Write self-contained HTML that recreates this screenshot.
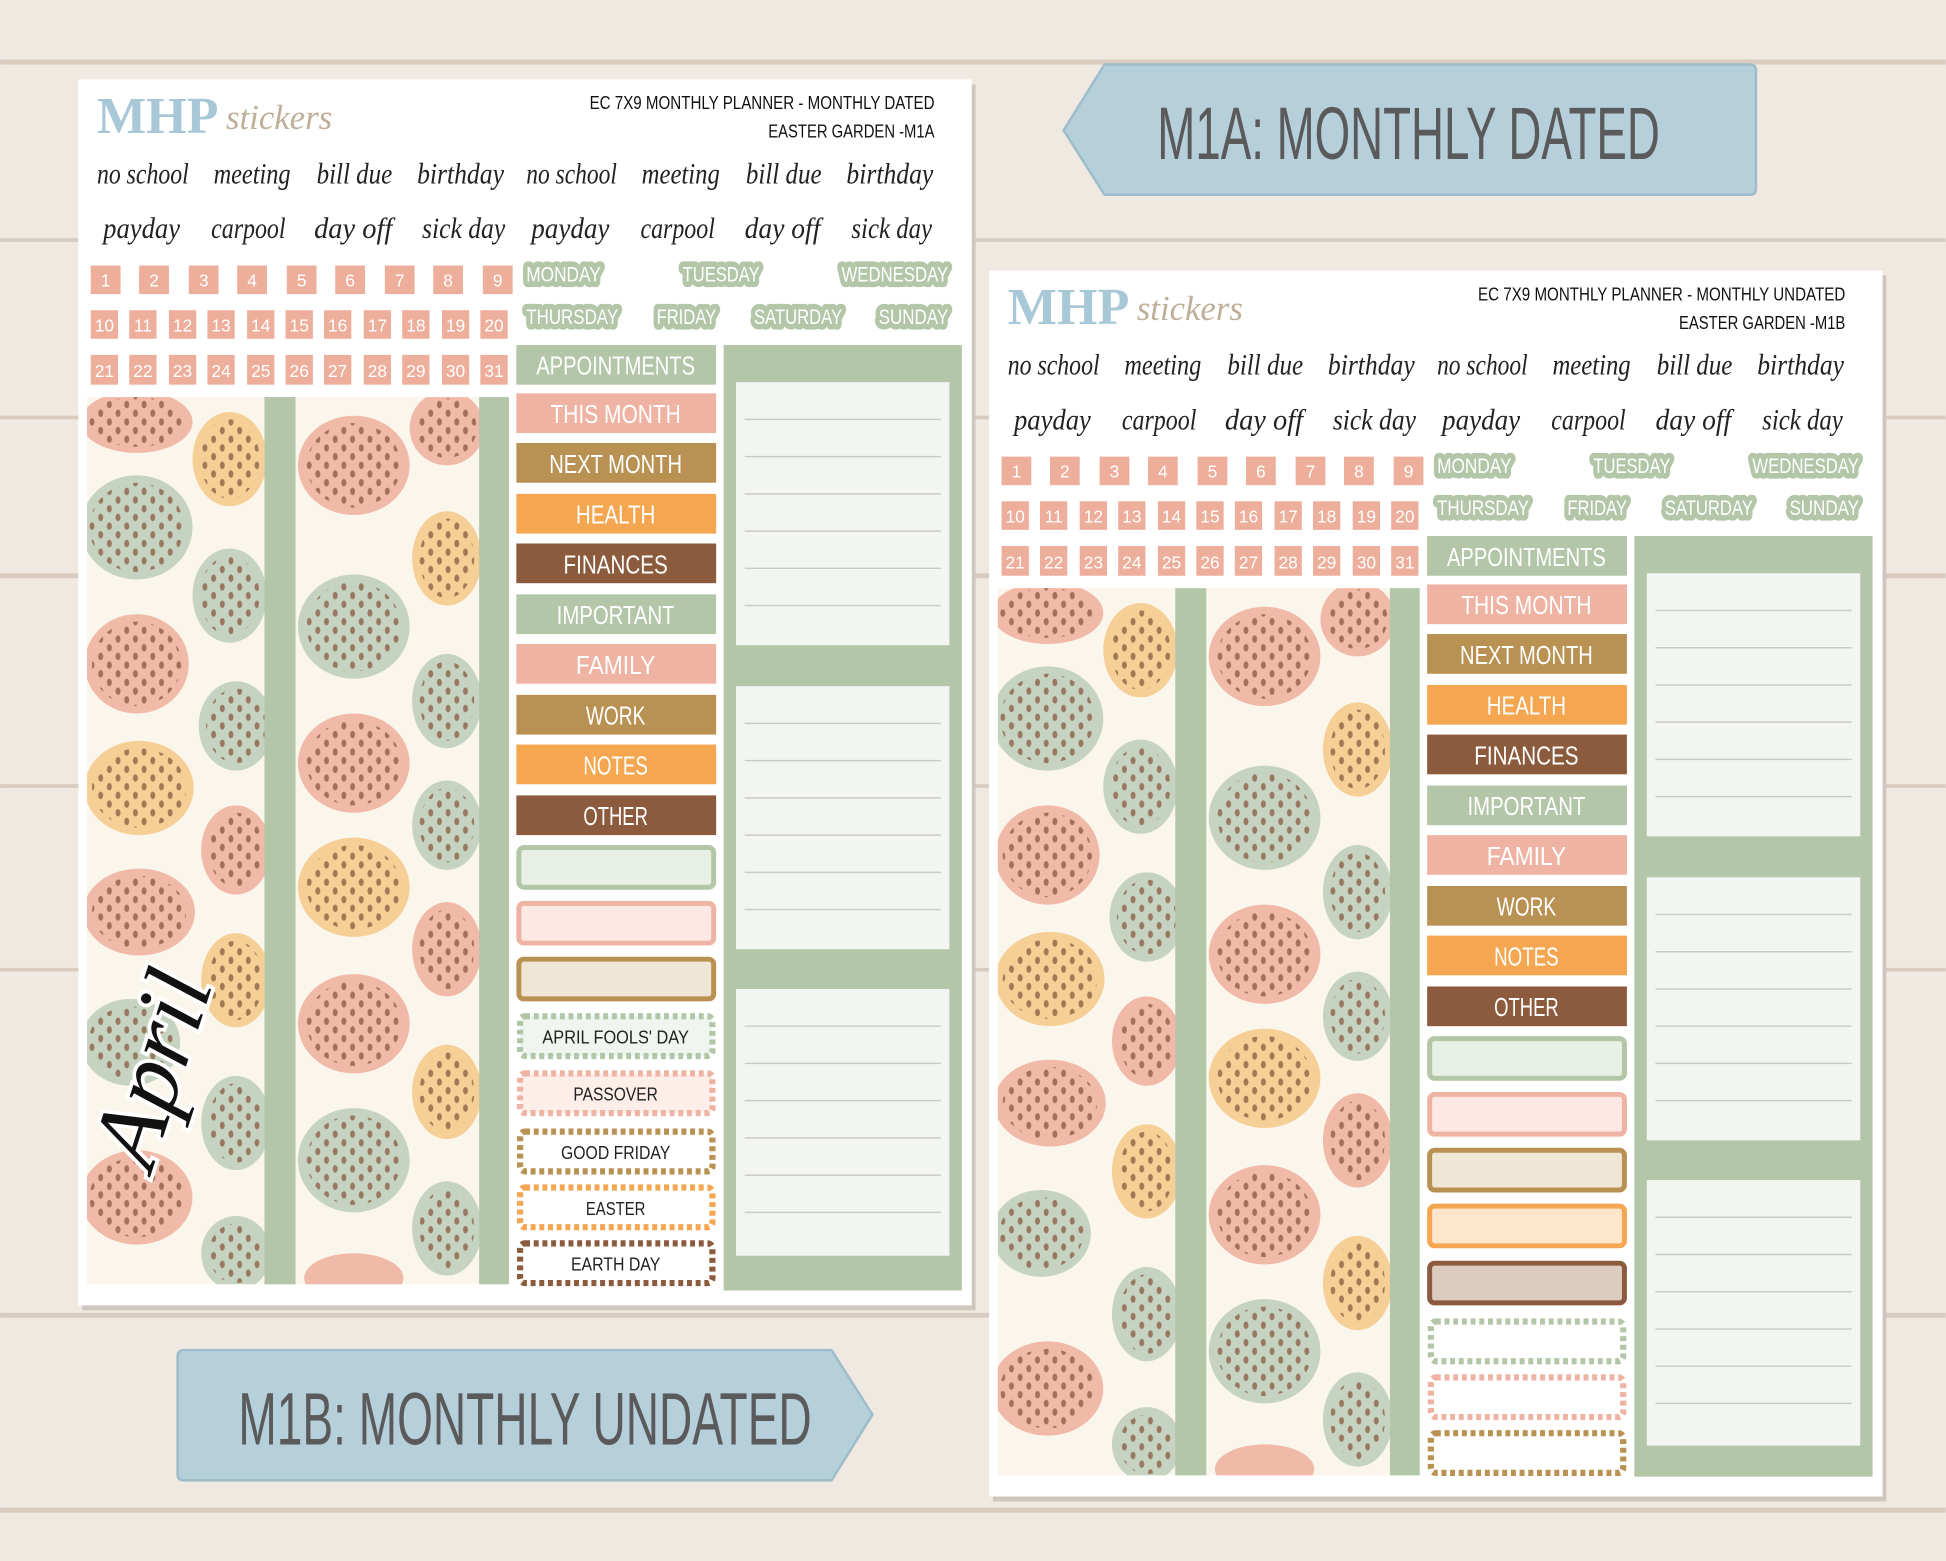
<!DOCTYPE html>
<html><head><meta charset="utf-8"><style>
html,body{margin:0;padding:0;background:#efe9e2;}
svg{display:block}
.w{font-family:"Liberation Sans",sans-serif;fill:#fff;text-anchor:middle;font-size:21px}
.s{font-family:"Liberation Serif",serif;font-style:italic;font-size:24px;fill:#222}
.n{font-family:"Liberation Sans",sans-serif;fill:#fff;text-anchor:middle;font-size:14px}
.d{font-family:"Liberation Sans",sans-serif;fill:#fff;text-anchor:middle;font-size:17px;stroke:#b3c6a8;stroke-width:9px;stroke-linejoin:round;paint-order:stroke}
.k{font-family:"Liberation Sans",sans-serif;fill:#222;text-anchor:middle;font-size:15px}
.t{font-family:"Liberation Sans",sans-serif;fill:#111;text-anchor:end;font-size:15px}
.b{font-family:"Liberation Sans",sans-serif;fill:#5a5a5a;text-anchor:middle;font-size:60px}
.ln{stroke:#c9cbc8;stroke-width:1.2}
</style></head><body>
<svg width="1946" height="1561" viewBox="0 0 1568 1258" xmlns="http://www.w3.org/2000/svg">
<defs>
<pattern id="dots" width="14" height="14" patternUnits="userSpaceOnUse"><ellipse cx="4" cy="4" rx="2" ry="3" fill="#8a5a40"/><ellipse cx="11" cy="11" rx="2" ry="3" fill="#8a5a40"/></pattern>
<clipPath id="c1"><rect x="70" y="320" width="340" height="715"/></clipPath>
</defs>
<rect width="1568" height="1258" fill="#efe9e2"/>
<g fill="#d8ccc0">
<rect y="48" width="1568" height="4"/><rect y="192" width="1568" height="3"/><rect y="335" width="1568" height="3"/><rect y="462" width="1568" height="4"/><rect y="632" width="1568" height="3"/><rect y="780" width="1568" height="3"/><rect y="1058" width="1568" height="4"/><rect y="1215" width="1568" height="4"/>
</g>

<!-- Sheet 1 -->
<rect x="66" y="68" width="720" height="988" fill="#cfc7bd"/>
<rect x="63" y="64" width="720" height="988" fill="#fff"/>
<text x="78" y="107" font-family="Liberation Serif,serif" font-weight="bold" font-size="42" fill="#a8c8d8">MHP</text>
<text x="182" y="104" font-family="Liberation Serif,serif" font-style="italic" font-size="28" fill="#bfae98">stickers</text>
<text class="t" x="753" y="88" textLength="278" lengthAdjust="spacingAndGlyphs">EC 7X9 MONTHLY PLANNER - MONTHLY DATED</text>
<text class="t" x="753" y="111" textLength="134" lengthAdjust="spacingAndGlyphs">EASTER GARDEN -M1A</text>
<g class="s">
<text x="78" y="148" textLength="74" lengthAdjust="spacingAndGlyphs">no school</text><text x="172" y="148" textLength="62" lengthAdjust="spacingAndGlyphs">meeting</text><text x="255" y="148" textLength="61" lengthAdjust="spacingAndGlyphs">bill due</text><text x="336" y="148" textLength="70" lengthAdjust="spacingAndGlyphs">birthday</text>
<text x="424" y="148" textLength="73" lengthAdjust="spacingAndGlyphs">no school</text><text x="517" y="148" textLength="63" lengthAdjust="spacingAndGlyphs">meeting</text><text x="601" y="148" textLength="61" lengthAdjust="spacingAndGlyphs">bill due</text><text x="682" y="148" textLength="70" lengthAdjust="spacingAndGlyphs">birthday</text>
<text x="83" y="192" textLength="62" lengthAdjust="spacingAndGlyphs">payday</text><text x="170" y="192" textLength="60" lengthAdjust="spacingAndGlyphs">carpool</text><text x="253" y="192" textLength="63" lengthAdjust="spacingAndGlyphs">day off</text><text x="340" y="192" textLength="67" lengthAdjust="spacingAndGlyphs">sick day</text>
<text x="428" y="192" textLength="63" lengthAdjust="spacingAndGlyphs">payday</text><text x="516" y="192" textLength="60" lengthAdjust="spacingAndGlyphs">carpool</text><text x="600" y="192" textLength="61" lengthAdjust="spacingAndGlyphs">day off</text><text x="686" y="192" textLength="65" lengthAdjust="spacingAndGlyphs">sick day</text>
</g>
<g fill="#eeae9c">
<rect x="73" y="214" width="24" height="23"/><rect x="112" y="214" width="24" height="23"/><rect x="152" y="214" width="24" height="23"/><rect x="191" y="214" width="24" height="23"/><rect x="231" y="214" width="24" height="23"/><rect x="270" y="214" width="24" height="23"/><rect x="310" y="214" width="24" height="23"/><rect x="349" y="214" width="24" height="23"/><rect x="389" y="214" width="24" height="23"/>
<rect x="73" y="250" width="22" height="23"/><rect x="104" y="250" width="22" height="23"/><rect x="136" y="250" width="22" height="23"/><rect x="167" y="250" width="22" height="23"/><rect x="199" y="250" width="22" height="23"/><rect x="230" y="250" width="22" height="23"/><rect x="261" y="250" width="22" height="23"/><rect x="293" y="250" width="22" height="23"/><rect x="324" y="250" width="22" height="23"/><rect x="356" y="250" width="22" height="23"/><rect x="387" y="250" width="22" height="23"/>
<rect x="73" y="286" width="22" height="24"/><rect x="104" y="286" width="22" height="24"/><rect x="136" y="286" width="22" height="24"/><rect x="167" y="286" width="22" height="24"/><rect x="199" y="286" width="22" height="24"/><rect x="230" y="286" width="22" height="24"/><rect x="261" y="286" width="22" height="24"/><rect x="293" y="286" width="22" height="24"/><rect x="324" y="286" width="22" height="24"/><rect x="356" y="286" width="22" height="24"/><rect x="387" y="286" width="22" height="24"/>
</g>
<g class="n">
<text x="85" y="231">1</text><text x="124" y="231">2</text><text x="164" y="231">3</text><text x="203" y="231">4</text><text x="243" y="231">5</text><text x="282" y="231">6</text><text x="322" y="231">7</text><text x="361" y="231">8</text><text x="401" y="231">9</text>
<text x="84" y="267">10</text><text x="115" y="267">11</text><text x="147" y="267">12</text><text x="178" y="267">13</text><text x="210" y="267">14</text><text x="241" y="267">15</text><text x="272" y="267">16</text><text x="304" y="267">17</text><text x="335" y="267">18</text><text x="367" y="267">19</text><text x="398" y="267">20</text>
<text x="84" y="304">21</text><text x="115" y="304">22</text><text x="147" y="304">23</text><text x="178" y="304">24</text><text x="210" y="304">25</text><text x="241" y="304">26</text><text x="272" y="304">27</text><text x="304" y="304">28</text><text x="335" y="304">29</text><text x="367" y="304">30</text><text x="398" y="304">31</text>
</g>
<g class="d">
<text x="454" y="227" textLength="60" lengthAdjust="spacingAndGlyphs">MONDAY</text><text x="581" y="227" textLength="62" lengthAdjust="spacingAndGlyphs">TUESDAY</text><text x="721" y="227" textLength="86" lengthAdjust="spacingAndGlyphs">WEDNESDAY</text>
<text x="461" y="261" textLength="74" lengthAdjust="spacingAndGlyphs">THURSDAY</text><text x="553" y="261" textLength="48" lengthAdjust="spacingAndGlyphs">FRIDAY</text><text x="643" y="261" textLength="71" lengthAdjust="spacingAndGlyphs">SATURDAY</text><text x="736" y="261" textLength="56" lengthAdjust="spacingAndGlyphs">SUNDAY</text>
</g>
<rect x="70" y="320" width="340" height="715" fill="#fbf6ec"/>
<g clip-path="url(#c1)">
<ellipse cx="110" cy="340" rx="45" ry="25" fill="#f0b9a8"/><ellipse cx="185" cy="370" rx="30" ry="38" fill="#f6cf96"/><ellipse cx="110" cy="425" rx="45" ry="42" fill="#c5d3c0"/><ellipse cx="185" cy="480" rx="30" ry="38" fill="#c5d3c0"/><ellipse cx="110" cy="535" rx="42" ry="40" fill="#f0b9a8"/><ellipse cx="190" cy="585" rx="30" ry="36" fill="#c5d3c0"/><ellipse cx="112" cy="635" rx="44" ry="38" fill="#f6cf96"/><ellipse cx="190" cy="685" rx="28" ry="36" fill="#f0b9a8"/><ellipse cx="112" cy="735" rx="45" ry="35" fill="#f0b9a8"/><ellipse cx="190" cy="790" rx="28" ry="38" fill="#f6cf96"/><ellipse cx="105" cy="840" rx="40" ry="35" fill="#c5d3c0"/><ellipse cx="190" cy="905" rx="28" ry="38" fill="#c5d3c0"/><ellipse cx="110" cy="965" rx="45" ry="38" fill="#f0b9a8"/><ellipse cx="190" cy="1010" rx="28" ry="30" fill="#c5d3c0"/>
<ellipse cx="285" cy="375" rx="45" ry="40" fill="#f0b9a8"/><ellipse cx="360" cy="345" rx="30" ry="30" fill="#f0b9a8"/><ellipse cx="360" cy="450" rx="28" ry="38" fill="#f6cf96"/><ellipse cx="285" cy="505" rx="45" ry="42" fill="#c5d3c0"/><ellipse cx="360" cy="565" rx="28" ry="38" fill="#c5d3c0"/><ellipse cx="285" cy="615" rx="45" ry="40" fill="#f0b9a8"/><ellipse cx="360" cy="665" rx="28" ry="36" fill="#c5d3c0"/><ellipse cx="285" cy="715" rx="45" ry="40" fill="#f6cf96"/><ellipse cx="360" cy="765" rx="28" ry="38" fill="#f0b9a8"/><ellipse cx="285" cy="825" rx="45" ry="40" fill="#f0b9a8"/><ellipse cx="360" cy="880" rx="28" ry="38" fill="#f6cf96"/><ellipse cx="285" cy="935" rx="45" ry="42" fill="#c5d3c0"/><ellipse cx="360" cy="990" rx="28" ry="38" fill="#c5d3c0"/><ellipse cx="285" cy="1030" rx="40" ry="20" fill="#f0b9a8"/>
<g fill="url(#dots)" opacity="0.75">
<ellipse cx="110" cy="340" rx="40" ry="20"/><ellipse cx="185" cy="370" rx="24" ry="32"/><ellipse cx="110" cy="425" rx="38" ry="36"/><ellipse cx="185" cy="480" rx="24" ry="32"/><ellipse cx="110" cy="535" rx="36" ry="34"/><ellipse cx="190" cy="585" rx="24" ry="30"/><ellipse cx="112" cy="635" rx="38" ry="32"/><ellipse cx="190" cy="685" rx="22" ry="30"/><ellipse cx="112" cy="735" rx="38" ry="29"/><ellipse cx="190" cy="790" rx="22" ry="32"/><ellipse cx="105" cy="840" rx="34" ry="29"/><ellipse cx="190" cy="905" rx="22" ry="32"/><ellipse cx="110" cy="965" rx="38" ry="32"/><ellipse cx="190" cy="1010" rx="22" ry="24"/>
<ellipse cx="285" cy="375" rx="38" ry="34"/><ellipse cx="360" cy="345" rx="24" ry="24"/><ellipse cx="360" cy="450" rx="22" ry="32"/><ellipse cx="285" cy="505" rx="38" ry="36"/><ellipse cx="360" cy="565" rx="22" ry="32"/><ellipse cx="285" cy="615" rx="38" ry="34"/><ellipse cx="360" cy="665" rx="22" ry="30"/><ellipse cx="285" cy="715" rx="38" ry="34"/><ellipse cx="360" cy="765" rx="22" ry="32"/><ellipse cx="285" cy="825" rx="38" ry="34"/><ellipse cx="360" cy="880" rx="22" ry="32"/><ellipse cx="285" cy="935" rx="38" ry="36"/><ellipse cx="360" cy="990" rx="22" ry="32"/>
</g>
</g>
<rect x="213" y="320" width="25" height="715" fill="#b3c6a8"/><rect x="386" y="320" width="24" height="715" fill="#b3c6a8"/>
<text transform="translate(122,945) rotate(-72)" font-family="Liberation Serif,serif" font-style="italic" font-size="78" fill="#111" stroke="#fff" stroke-width="6" paint-order="stroke">April</text>
<g class="w">
<rect x="416" y="278" width="161" height="32" fill="#b3c6a8"/><text x="496" y="302" textLength="128" lengthAdjust="spacingAndGlyphs">APPOINTMENTS</text>
<rect x="416" y="317" width="161" height="32" fill="#efb3a3"/><text x="496" y="341" textLength="105" lengthAdjust="spacingAndGlyphs">THIS MONTH</text>
<rect x="416" y="357" width="161" height="32" fill="#b99152"/><text x="496" y="381" textLength="107" lengthAdjust="spacingAndGlyphs">NEXT MONTH</text>
<rect x="416" y="398" width="161" height="32" fill="#f5a650"/><text x="496" y="422" textLength="64" lengthAdjust="spacingAndGlyphs">HEALTH</text>
<rect x="416" y="438" width="161" height="32" fill="#8c5b3d"/><text x="496" y="462" textLength="84" lengthAdjust="spacingAndGlyphs">FINANCES</text>
<rect x="416" y="479" width="161" height="32" fill="#b3c6a8"/><text x="496" y="503" textLength="95" lengthAdjust="spacingAndGlyphs">IMPORTANT</text>
<rect x="416" y="519" width="161" height="32" fill="#efb3a3"/><text x="496" y="543" textLength="64" lengthAdjust="spacingAndGlyphs">FAMILY</text>
<rect x="416" y="560" width="161" height="32" fill="#b99152"/><text x="496" y="584" textLength="48" lengthAdjust="spacingAndGlyphs">WORK</text>
<rect x="416" y="600" width="161" height="32" fill="#f5a650"/><text x="496" y="624" textLength="52" lengthAdjust="spacingAndGlyphs">NOTES</text>
<rect x="416" y="641" width="161" height="32" fill="#8c5b3d"/><text x="496" y="665" textLength="52" lengthAdjust="spacingAndGlyphs">OTHER</text>
</g>
<rect x="418" y="683" width="157" height="32" rx="4" fill="#e8efe4" stroke="#b3c6a8" stroke-width="4"/>
<rect x="418" y="728" width="157" height="32" rx="4" fill="#fde8e4" stroke="#efb3a3" stroke-width="4"/>
<rect x="418" y="773" width="157" height="32" rx="4" fill="#efe6d6" stroke="#b99152" stroke-width="4"/>
<g fill="#fff" stroke-width="5" stroke-dasharray="4 3">
<rect x="419" y="819" width="155" height="32" rx="4" fill="#f1f5ef" stroke="#b3c6a8"/>
<rect x="419" y="865" width="155" height="32" rx="4" fill="#fdeeea" stroke="#efb3a3"/>
<rect x="419" y="912" width="155" height="32" rx="4" stroke="#b99152"/>
<rect x="419" y="957" width="155" height="32" rx="4" stroke="#f5a650"/>
<rect x="419" y="1002" width="155" height="32" rx="4" stroke="#8c5b3d"/>
</g>
<g class="k">
<text x="496" y="841" textLength="118" lengthAdjust="spacingAndGlyphs">APRIL FOOLS' DAY</text><text x="496" y="887" textLength="68" lengthAdjust="spacingAndGlyphs">PASSOVER</text><text x="496" y="934" textLength="88" lengthAdjust="spacingAndGlyphs">GOOD FRIDAY</text><text x="496" y="979" textLength="48" lengthAdjust="spacingAndGlyphs">EASTER</text><text x="496" y="1024" textLength="72" lengthAdjust="spacingAndGlyphs">EARTH DAY</text>
</g>
<rect x="583" y="278" width="192" height="762" fill="#b3c6a8"/>
<rect x="593" y="308" width="172" height="212" fill="#f3f5f2"/>
<rect x="593" y="553" width="172" height="212" fill="#f3f5f2"/>
<rect x="593" y="797" width="172" height="215" fill="#f3f5f2"/>
<g class="ln">
<line x1="600" x2="758" y1="338" y2="338"/><line x1="600" x2="758" y1="368" y2="368"/><line x1="600" x2="758" y1="398" y2="398"/><line x1="600" x2="758" y1="428" y2="428"/><line x1="600" x2="758" y1="458" y2="458"/><line x1="600" x2="758" y1="488" y2="488"/>
<line x1="600" x2="758" y1="583" y2="583"/><line x1="600" x2="758" y1="613" y2="613"/><line x1="600" x2="758" y1="643" y2="643"/><line x1="600" x2="758" y1="673" y2="673"/><line x1="600" x2="758" y1="703" y2="703"/><line x1="600" x2="758" y1="733" y2="733"/>
<line x1="600" x2="758" y1="827" y2="827"/><line x1="600" x2="758" y1="857" y2="857"/><line x1="600" x2="758" y1="887" y2="887"/><line x1="600" x2="758" y1="917" y2="917"/><line x1="600" x2="758" y1="947" y2="947"/><line x1="600" x2="758" y1="977" y2="977"/>
</g>

<!-- Sheet 2 -->
<rect x="800" y="222" width="720" height="988" fill="#cfc7bd"/>
<rect x="797" y="218" width="720" height="988" fill="#fff"/>
<g transform="translate(734,154)">
<text x="78" y="107" font-family="Liberation Serif,serif" font-weight="bold" font-size="42" fill="#a8c8d8">MHP</text>
<text x="182" y="104" font-family="Liberation Serif,serif" font-style="italic" font-size="28" fill="#bfae98">stickers</text>
<text class="t" x="753" y="88" textLength="296" lengthAdjust="spacingAndGlyphs">EC 7X9 MONTHLY PLANNER - MONTHLY UNDATED</text>
<text class="t" x="753" y="111" textLength="134" lengthAdjust="spacingAndGlyphs">EASTER GARDEN -M1B</text>
<g class="s">
<text x="78" y="148" textLength="74" lengthAdjust="spacingAndGlyphs">no school</text><text x="172" y="148" textLength="62" lengthAdjust="spacingAndGlyphs">meeting</text><text x="255" y="148" textLength="61" lengthAdjust="spacingAndGlyphs">bill due</text><text x="336" y="148" textLength="70" lengthAdjust="spacingAndGlyphs">birthday</text>
<text x="424" y="148" textLength="73" lengthAdjust="spacingAndGlyphs">no school</text><text x="517" y="148" textLength="63" lengthAdjust="spacingAndGlyphs">meeting</text><text x="601" y="148" textLength="61" lengthAdjust="spacingAndGlyphs">bill due</text><text x="682" y="148" textLength="70" lengthAdjust="spacingAndGlyphs">birthday</text>
<text x="83" y="192" textLength="62" lengthAdjust="spacingAndGlyphs">payday</text><text x="170" y="192" textLength="60" lengthAdjust="spacingAndGlyphs">carpool</text><text x="253" y="192" textLength="63" lengthAdjust="spacingAndGlyphs">day off</text><text x="340" y="192" textLength="67" lengthAdjust="spacingAndGlyphs">sick day</text>
<text x="428" y="192" textLength="63" lengthAdjust="spacingAndGlyphs">payday</text><text x="516" y="192" textLength="60" lengthAdjust="spacingAndGlyphs">carpool</text><text x="600" y="192" textLength="61" lengthAdjust="spacingAndGlyphs">day off</text><text x="686" y="192" textLength="65" lengthAdjust="spacingAndGlyphs">sick day</text>
</g>
<g fill="#eeae9c">
<rect x="73" y="214" width="24" height="23"/><rect x="112" y="214" width="24" height="23"/><rect x="152" y="214" width="24" height="23"/><rect x="191" y="214" width="24" height="23"/><rect x="231" y="214" width="24" height="23"/><rect x="270" y="214" width="24" height="23"/><rect x="310" y="214" width="24" height="23"/><rect x="349" y="214" width="24" height="23"/><rect x="389" y="214" width="24" height="23"/>
<rect x="73" y="250" width="22" height="23"/><rect x="104" y="250" width="22" height="23"/><rect x="136" y="250" width="22" height="23"/><rect x="167" y="250" width="22" height="23"/><rect x="199" y="250" width="22" height="23"/><rect x="230" y="250" width="22" height="23"/><rect x="261" y="250" width="22" height="23"/><rect x="293" y="250" width="22" height="23"/><rect x="324" y="250" width="22" height="23"/><rect x="356" y="250" width="22" height="23"/><rect x="387" y="250" width="22" height="23"/>
<rect x="73" y="286" width="22" height="24"/><rect x="104" y="286" width="22" height="24"/><rect x="136" y="286" width="22" height="24"/><rect x="167" y="286" width="22" height="24"/><rect x="199" y="286" width="22" height="24"/><rect x="230" y="286" width="22" height="24"/><rect x="261" y="286" width="22" height="24"/><rect x="293" y="286" width="22" height="24"/><rect x="324" y="286" width="22" height="24"/><rect x="356" y="286" width="22" height="24"/><rect x="387" y="286" width="22" height="24"/>
</g>
<g class="n">
<text x="85" y="231">1</text><text x="124" y="231">2</text><text x="164" y="231">3</text><text x="203" y="231">4</text><text x="243" y="231">5</text><text x="282" y="231">6</text><text x="322" y="231">7</text><text x="361" y="231">8</text><text x="401" y="231">9</text>
<text x="84" y="267">10</text><text x="115" y="267">11</text><text x="147" y="267">12</text><text x="178" y="267">13</text><text x="210" y="267">14</text><text x="241" y="267">15</text><text x="272" y="267">16</text><text x="304" y="267">17</text><text x="335" y="267">18</text><text x="367" y="267">19</text><text x="398" y="267">20</text>
<text x="84" y="304">21</text><text x="115" y="304">22</text><text x="147" y="304">23</text><text x="178" y="304">24</text><text x="210" y="304">25</text><text x="241" y="304">26</text><text x="272" y="304">27</text><text x="304" y="304">28</text><text x="335" y="304">29</text><text x="367" y="304">30</text><text x="398" y="304">31</text>
</g>
<g class="d">
<text x="454" y="227" textLength="60" lengthAdjust="spacingAndGlyphs">MONDAY</text><text x="581" y="227" textLength="62" lengthAdjust="spacingAndGlyphs">TUESDAY</text><text x="721" y="227" textLength="86" lengthAdjust="spacingAndGlyphs">WEDNESDAY</text>
<text x="461" y="261" textLength="74" lengthAdjust="spacingAndGlyphs">THURSDAY</text><text x="553" y="261" textLength="48" lengthAdjust="spacingAndGlyphs">FRIDAY</text><text x="643" y="261" textLength="71" lengthAdjust="spacingAndGlyphs">SATURDAY</text><text x="736" y="261" textLength="56" lengthAdjust="spacingAndGlyphs">SUNDAY</text>
</g>
<rect x="70" y="320" width="340" height="715" fill="#fbf6ec"/>
<g clip-path="url(#c1)">
<ellipse cx="110" cy="340" rx="45" ry="25" fill="#f0b9a8"/><ellipse cx="185" cy="370" rx="30" ry="38" fill="#f6cf96"/><ellipse cx="110" cy="425" rx="45" ry="42" fill="#c5d3c0"/><ellipse cx="185" cy="480" rx="30" ry="38" fill="#c5d3c0"/><ellipse cx="110" cy="535" rx="42" ry="40" fill="#f0b9a8"/><ellipse cx="190" cy="585" rx="30" ry="36" fill="#c5d3c0"/><ellipse cx="112" cy="635" rx="44" ry="38" fill="#f6cf96"/><ellipse cx="190" cy="685" rx="28" ry="36" fill="#f0b9a8"/><ellipse cx="112" cy="735" rx="45" ry="35" fill="#f0b9a8"/><ellipse cx="190" cy="790" rx="28" ry="38" fill="#f6cf96"/><ellipse cx="105" cy="840" rx="40" ry="35" fill="#c5d3c0"/><ellipse cx="190" cy="905" rx="28" ry="38" fill="#c5d3c0"/><ellipse cx="110" cy="965" rx="45" ry="38" fill="#f0b9a8"/><ellipse cx="190" cy="1010" rx="28" ry="30" fill="#c5d3c0"/>
<ellipse cx="285" cy="375" rx="45" ry="40" fill="#f0b9a8"/><ellipse cx="360" cy="345" rx="30" ry="30" fill="#f0b9a8"/><ellipse cx="360" cy="450" rx="28" ry="38" fill="#f6cf96"/><ellipse cx="285" cy="505" rx="45" ry="42" fill="#c5d3c0"/><ellipse cx="360" cy="565" rx="28" ry="38" fill="#c5d3c0"/><ellipse cx="285" cy="615" rx="45" ry="40" fill="#f0b9a8"/><ellipse cx="360" cy="665" rx="28" ry="36" fill="#c5d3c0"/><ellipse cx="285" cy="715" rx="45" ry="40" fill="#f6cf96"/><ellipse cx="360" cy="765" rx="28" ry="38" fill="#f0b9a8"/><ellipse cx="285" cy="825" rx="45" ry="40" fill="#f0b9a8"/><ellipse cx="360" cy="880" rx="28" ry="38" fill="#f6cf96"/><ellipse cx="285" cy="935" rx="45" ry="42" fill="#c5d3c0"/><ellipse cx="360" cy="990" rx="28" ry="38" fill="#c5d3c0"/><ellipse cx="285" cy="1030" rx="40" ry="20" fill="#f0b9a8"/>
<g fill="url(#dots)" opacity="0.75">
<ellipse cx="110" cy="340" rx="40" ry="20"/><ellipse cx="185" cy="370" rx="24" ry="32"/><ellipse cx="110" cy="425" rx="38" ry="36"/><ellipse cx="185" cy="480" rx="24" ry="32"/><ellipse cx="110" cy="535" rx="36" ry="34"/><ellipse cx="190" cy="585" rx="24" ry="30"/><ellipse cx="112" cy="635" rx="38" ry="32"/><ellipse cx="190" cy="685" rx="22" ry="30"/><ellipse cx="112" cy="735" rx="38" ry="29"/><ellipse cx="190" cy="790" rx="22" ry="32"/><ellipse cx="105" cy="840" rx="34" ry="29"/><ellipse cx="190" cy="905" rx="22" ry="32"/><ellipse cx="110" cy="965" rx="38" ry="32"/><ellipse cx="190" cy="1010" rx="22" ry="24"/>
<ellipse cx="285" cy="375" rx="38" ry="34"/><ellipse cx="360" cy="345" rx="24" ry="24"/><ellipse cx="360" cy="450" rx="22" ry="32"/><ellipse cx="285" cy="505" rx="38" ry="36"/><ellipse cx="360" cy="565" rx="22" ry="32"/><ellipse cx="285" cy="615" rx="38" ry="34"/><ellipse cx="360" cy="665" rx="22" ry="30"/><ellipse cx="285" cy="715" rx="38" ry="34"/><ellipse cx="360" cy="765" rx="22" ry="32"/><ellipse cx="285" cy="825" rx="38" ry="34"/><ellipse cx="360" cy="880" rx="22" ry="32"/><ellipse cx="285" cy="935" rx="38" ry="36"/><ellipse cx="360" cy="990" rx="22" ry="32"/>
</g>
</g>
<rect x="213" y="320" width="25" height="715" fill="#b3c6a8"/><rect x="386" y="320" width="24" height="715" fill="#b3c6a8"/>
<g class="w">
<rect x="416" y="278" width="161" height="32" fill="#b3c6a8"/><text x="496" y="302" textLength="128" lengthAdjust="spacingAndGlyphs">APPOINTMENTS</text>
<rect x="416" y="317" width="161" height="32" fill="#efb3a3"/><text x="496" y="341" textLength="105" lengthAdjust="spacingAndGlyphs">THIS MONTH</text>
<rect x="416" y="357" width="161" height="32" fill="#b99152"/><text x="496" y="381" textLength="107" lengthAdjust="spacingAndGlyphs">NEXT MONTH</text>
<rect x="416" y="398" width="161" height="32" fill="#f5a650"/><text x="496" y="422" textLength="64" lengthAdjust="spacingAndGlyphs">HEALTH</text>
<rect x="416" y="438" width="161" height="32" fill="#8c5b3d"/><text x="496" y="462" textLength="84" lengthAdjust="spacingAndGlyphs">FINANCES</text>
<rect x="416" y="479" width="161" height="32" fill="#b3c6a8"/><text x="496" y="503" textLength="95" lengthAdjust="spacingAndGlyphs">IMPORTANT</text>
<rect x="416" y="519" width="161" height="32" fill="#efb3a3"/><text x="496" y="543" textLength="64" lengthAdjust="spacingAndGlyphs">FAMILY</text>
<rect x="416" y="560" width="161" height="32" fill="#b99152"/><text x="496" y="584" textLength="48" lengthAdjust="spacingAndGlyphs">WORK</text>
<rect x="416" y="600" width="161" height="32" fill="#f5a650"/><text x="496" y="624" textLength="52" lengthAdjust="spacingAndGlyphs">NOTES</text>
<rect x="416" y="641" width="161" height="32" fill="#8c5b3d"/><text x="496" y="665" textLength="52" lengthAdjust="spacingAndGlyphs">OTHER</text>
</g>
<rect x="418" y="683" width="157" height="32" rx="4" fill="#e8efe4" stroke="#b3c6a8" stroke-width="4"/>
<rect x="418" y="728" width="157" height="32" rx="4" fill="#fde8e4" stroke="#efb3a3" stroke-width="4"/>
<rect x="418" y="773" width="157" height="32" rx="4" fill="#efe6d6" stroke="#b99152" stroke-width="4"/>
<rect x="418" y="818" width="157" height="32" rx="4" fill="#fde6cc" stroke="#f5a650" stroke-width="4"/>
<rect x="418" y="864" width="157" height="32" rx="4" fill="#dccbbf" stroke="#8c5b3d" stroke-width="4"/>
<g fill="#fff" stroke-width="5" stroke-dasharray="4 3">
<rect x="419" y="911" width="155" height="32" rx="4" stroke="#b3c6a8"/>
<rect x="419" y="956" width="155" height="32" rx="4" stroke="#efb3a3"/>
<rect x="419" y="1001" width="155" height="32" rx="4" stroke="#b99152"/>
</g>
<rect x="583" y="278" width="192" height="758" fill="#b3c6a8"/>
<rect x="593" y="308" width="172" height="212" fill="#f3f5f2"/>
<rect x="593" y="553" width="172" height="212" fill="#f3f5f2"/>
<rect x="593" y="797" width="172" height="214" fill="#f3f5f2"/>
<g class="ln">
<line x1="600" x2="758" y1="338" y2="338"/><line x1="600" x2="758" y1="368" y2="368"/><line x1="600" x2="758" y1="398" y2="398"/><line x1="600" x2="758" y1="428" y2="428"/><line x1="600" x2="758" y1="458" y2="458"/><line x1="600" x2="758" y1="488" y2="488"/>
<line x1="600" x2="758" y1="583" y2="583"/><line x1="600" x2="758" y1="613" y2="613"/><line x1="600" x2="758" y1="643" y2="643"/><line x1="600" x2="758" y1="673" y2="673"/><line x1="600" x2="758" y1="703" y2="703"/><line x1="600" x2="758" y1="733" y2="733"/>
<line x1="600" x2="758" y1="827" y2="827"/><line x1="600" x2="758" y1="857" y2="857"/><line x1="600" x2="758" y1="887" y2="887"/><line x1="600" x2="758" y1="917" y2="917"/><line x1="600" x2="758" y1="947" y2="947"/><line x1="600" x2="758" y1="977" y2="977"/>
</g>
</g>

<!-- Banners -->
<path d="M890,52 L1410,52 Q1415,52 1415,57 L1415,152 Q1415,157 1410,157 L890,157 L857,105 Z" fill="#b5cfdb" stroke="#9fbccb" stroke-width="2"/>
<text class="b" x="1135" y="128" textLength="405" lengthAdjust="spacingAndGlyphs">M1A: MONTHLY DATED</text>
<path d="M148,1088 L670,1088 L703,1140 L670,1193 L148,1193 Q143,1193 143,1188 L143,1093 Q143,1088 148,1088 Z" fill="#b5cfdb" stroke="#9fbccb" stroke-width="2"/>
<text class="b" x="423" y="1164" textLength="462" lengthAdjust="spacingAndGlyphs">M1B: MONTHLY UNDATED</text>
</svg>
</body></html>
